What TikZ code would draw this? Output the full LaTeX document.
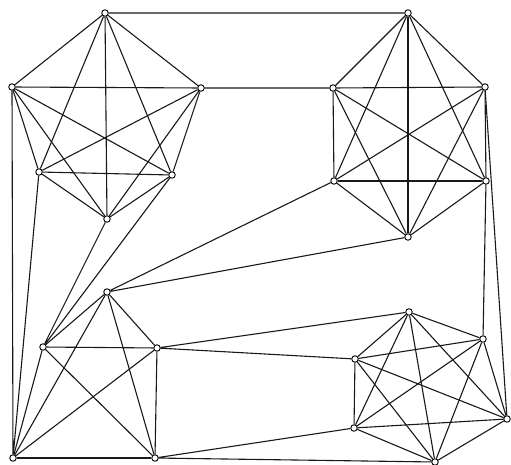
\documentclass[tikz,border=0pt]{standalone}
\usepackage{tikz}

\begin{document}
\begin{tikzpicture}[
  x=1pt, y=-1pt,
  vtx/.style={draw, circle, fill=white, inner sep=0pt, minimum size=6.5pt, line width=0.9pt},
  edge/.style={line width=1.1pt, black!90}
]
  \useasboundingbox (0,0) rectangle (511,465);
  % upper left K6
  \node[vtx] (a1) at (105,13) {};
  \node[vtx] (a2) at (12,87) {};
  \node[vtx] (a3) at (201,88) {};
  \node[vtx] (a4) at (39,172) {};
  \node[vtx] (a5) at (172,175) {};
  \node[vtx] (a6) at (107,219) {};
  % upper right K6
  \node[vtx] (b1) at (408,13) {};
  \node[vtx] (b2) at (333,88) {};
  \node[vtx] (b3) at (485,87) {};
  \node[vtx] (b4) at (334,181) {};
  \node[vtx] (b5) at (486,181) {};
  \node[vtx] (b6) at (408,237) {};
  % lower left K5
  \node[vtx] (c1) at (107,292) {};
  \node[vtx] (c2) at (43,347) {};
  \node[vtx] (c3) at (157,348) {};
  \node[vtx] (c4) at (13,458) {};
  \node[vtx] (c5) at (155,458) {};
  % lower right K6
  \node[vtx] (d1) at (409,312) {};
  \node[vtx] (d2) at (483,339) {};
  \node[vtx] (d3) at (355,359) {};
  \node[vtx] (d4) at (354,428) {};
  \node[vtx] (d5) at (507,419) {};
  \node[vtx] (d6) at (435,462) {};

  % complete graphs inside each block
  \foreach \g/\n in {a/6, b/6, c/5, d/6} {
    \pgfmathtruncatemacro\last{\n-1}
    \foreach \i in {1,...,\last} {
      \pgfmathtruncatemacro\k{\i+1}
      \foreach \j in {\k,...,\n}
        \draw[edge] (\g\i) -- (\g\j);
    }
  }
  % links between the blocks
  \draw[edge] (a1) -- (b1) (a3) -- (b2)
              (a2) -- (c4) (a4) -- (c4) (a6) -- (c2) (a5) -- (c2)
              (b4) -- (c1) (b6) -- (c1)
              (c3) -- (d1) (c3) -- (d3) (c5) -- (d4) (c5) -- (d6)
              (b3) -- (d5) (b5) -- (d2);
\end{tikzpicture}
\end{document}
